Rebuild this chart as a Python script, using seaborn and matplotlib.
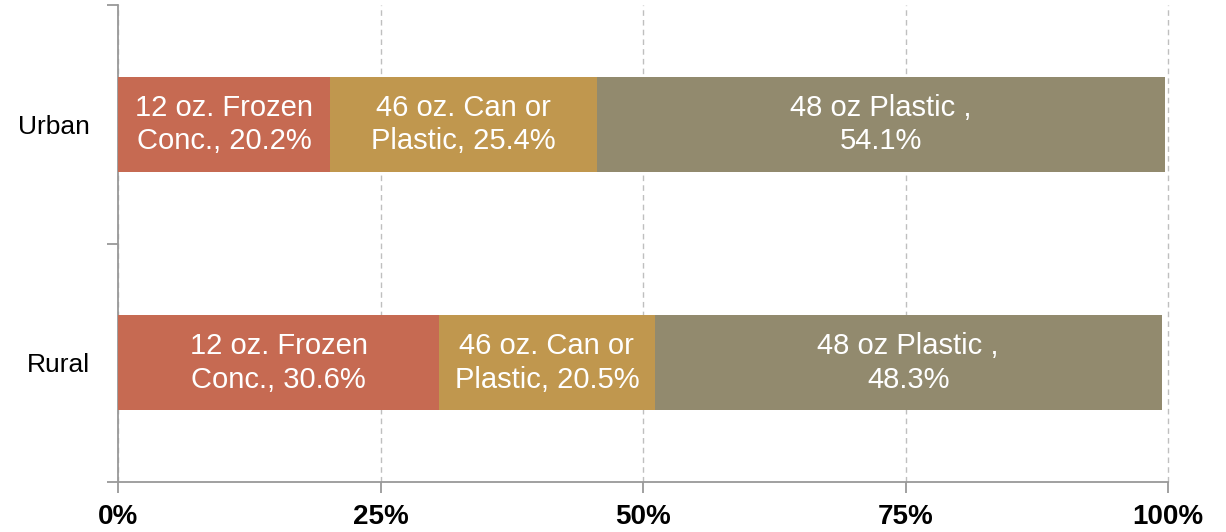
import matplotlib
matplotlib.use("Agg")
import matplotlib.pyplot as plt
import seaborn as sns
import pandas as pd
from matplotlib.ticker import FixedLocator, PercentFormatter

sns.set_theme(style="white")
plt.rcParams["font.family"] = ["Liberation Sans", "DejaVu Sans"]

# Market share by container type (percent)
areas = ["Urban", "Rural"]
frozen_conc = [20.2, 30.6]
can_or_plastic = [25.4, 20.5]
plastic_48 = [54.1, 48.3]

segment_prefixes = ["12 oz. Frozen\nConc., ", "46 oz. Can or\nPlastic, ", "48 oz Plastic ,\n"]
segment_colors = ["#C66A52", "#C0974E", "#928A6E"]

df = pd.DataFrame({
    "area": areas,
    "frozen": frozen_conc,
    "can": can_or_plastic,
    "plastic": plastic_48,
})
df["cum1"] = df["frozen"]
df["cum2"] = df["frozen"] + df["can"]
df["cum3"] = df["cum2"] + df["plastic"]

fig = plt.figure(figsize=(12.26, 5.32), dpi=100)
ax = fig.add_axes([118 / 1226, 50 / 532, 1050 / 1226, 477 / 532])

# Dashed vertical gridlines behind the bars
ax.set_axisbelow(True)
ax.xaxis.grid(True, linestyle=(0, (4, 3)), color="#BFBFBF", linewidth=1)
ax.yaxis.grid(False)

# Stacked bars: draw cumulative totals from the outermost segment inward
for col, color in zip(["cum3", "cum2", "cum1"], segment_colors[::-1]):
    sns.barplot(data=df, x=col, y="area", order=areas, color=color,
                width=0.4, saturation=1, ax=ax, linewidth=0, zorder=3)

# Segment labels centred in each piece
for i, row in df.iterrows():
    starts = [0, row["cum1"], row["cum2"]]
    vals = [row["frozen"], row["can"], row["plastic"]]
    for prefix, s, v in zip(segment_prefixes, starts, vals):
        ax.text(s + v / 2, i, f"{prefix}{v:.1f}%", ha="center", va="center",
                color="white", fontsize=21, linespacing=1.25, zorder=4)

ax.set_xlim(0, 100)
ax.set_ylim(1.5, -0.5)
ax.xaxis.set_major_locator(FixedLocator([0, 25, 50, 75, 100]))
ax.xaxis.set_major_formatter(PercentFormatter(decimals=0))
ax.set_xlabel("")
ax.set_ylabel("")
for gl in ax.xaxis.get_gridlines():
    gl.set_clip_on(False)

for side in ["top", "right"]:
    ax.spines[side].set_visible(False)
for side in ["left", "bottom"]:
    ax.spines[side].set_color("#999999")
    ax.spines[side].set_linewidth(1.3)

ax.tick_params(axis="x", which="major", direction="out", length=8, width=1.3,
               color="#999999", pad=8, labelsize=20, labelcolor="black",
               bottom=True)
for lbl in ax.get_xticklabels():
    lbl.set_fontweight("bold")

# Category labels without marks; boundary marks on the minor ticks
ax.tick_params(axis="y", which="major", length=0, pad=20, labelsize=19,
               labelcolor="black")
ax.yaxis.set_minor_locator(FixedLocator([-0.5, 0.5, 1.5]))
ax.tick_params(axis="y", which="minor", direction="out", length=8, width=1.3,
               color="#999999", left=True)

fig.savefig("out.png", dpi=100)
